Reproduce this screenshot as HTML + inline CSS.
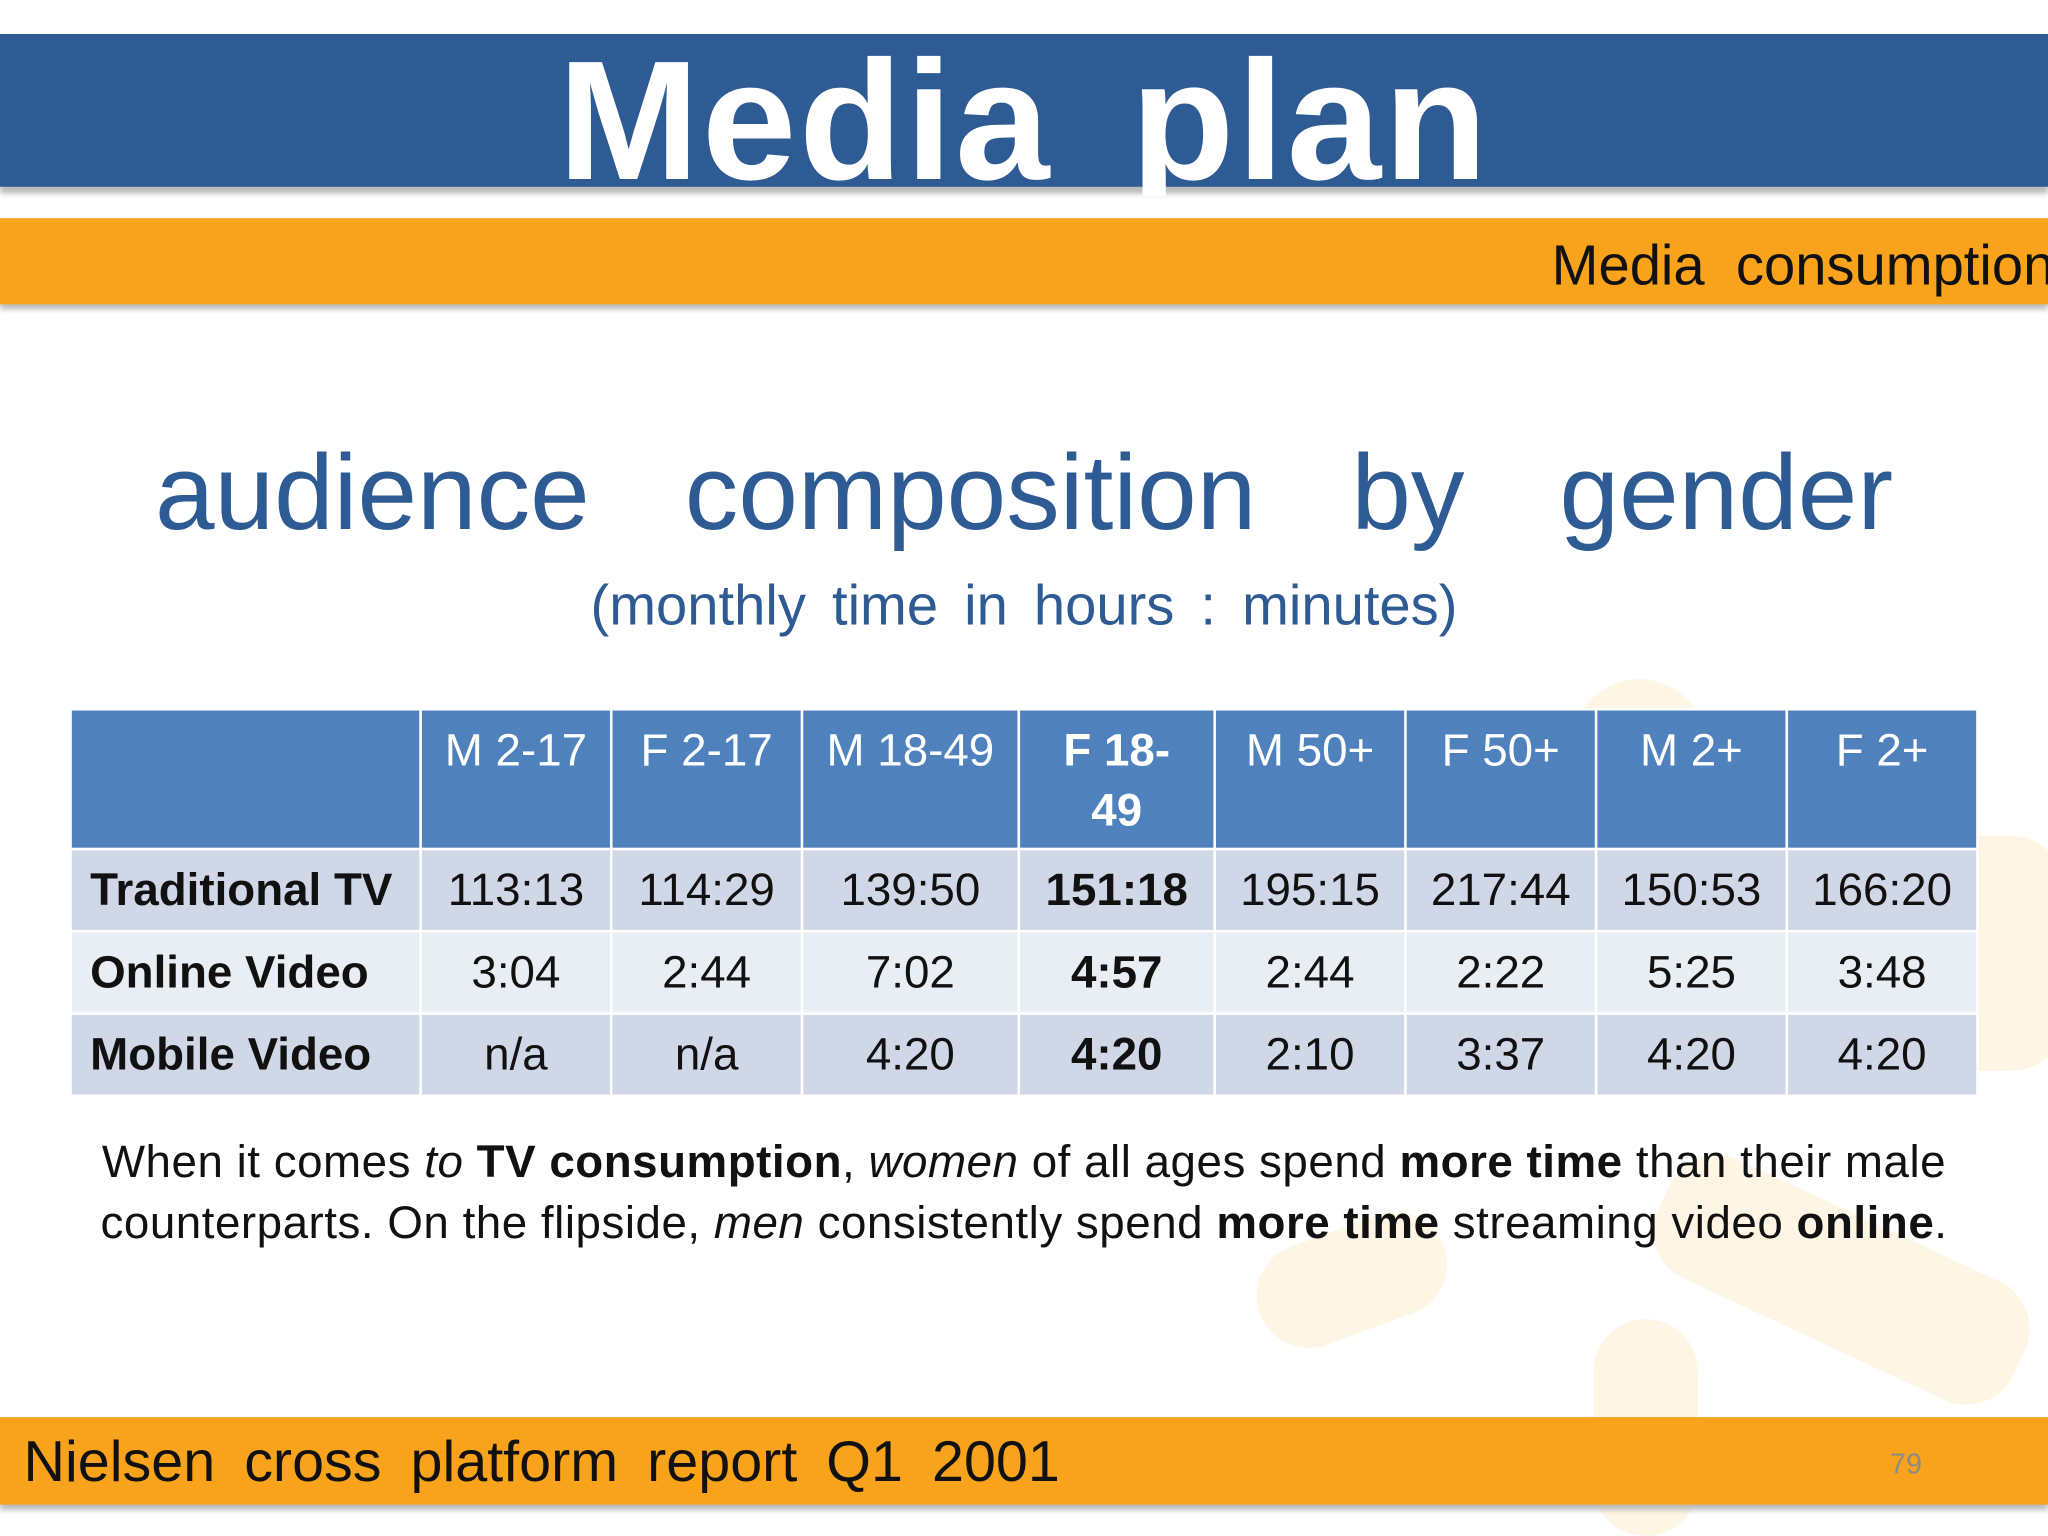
<!DOCTYPE html>
<html><head><meta charset="utf-8"><style>
html,body{margin:0;padding:0;background:#fff;overflow:hidden}
#wrap{width:1568px;height:1176px;position:relative;transform:scale(1.306122,1.306122);transform-origin:0 0;font-family:"Liberation Sans",sans-serif;overflow:hidden;background:#fff}
.abs{position:absolute}
.wm{position:absolute;background:rgba(250,205,120,0.2);border-radius:40px}
table{position:absolute;left:53px;top:542px;border-collapse:collapse;font-family:"Liberation Sans",sans-serif}
td,th{border:2px solid #fff;padding:0;text-align:center;font-size:35px;color:#111;font-weight:normal}
th{background:#4f81bd;color:#fff;vertical-align:top;padding-top:8px;line-height:46px;height:97px}
tr.r1 td,tr.r3 td{background:#d0d8e8}
tr.r2 td{background:#e9edf4}
td{height:61px}
td.lab{text-align:left;padding-left:14px;font-weight:bold}
.b{font-weight:bold}
</style></head><body>
<div id="wrap">
  <div class="wm" style="left:1200px;top:520px;width:110px;height:120px;border-radius:50%"></div>
  <div class="wm" style="left:1480px;top:640px;width:100px;height:180px"></div>
  <div class="wm" style="left:1260px;top:930px;width:300px;height:100px;transform:rotate(25deg)"></div>
  <div class="wm" style="left:1220px;top:1010px;width:80px;height:166px"></div>
  <div class="wm" style="left:960px;top:940px;width:150px;height:80px;transform:rotate(-20deg)"></div>

  <div class="abs" style="left:0;top:26px;width:1568px;height:117px;background:#2e5b93;box-shadow:0 5px 4px #bbb"></div>
  <div class="abs" style="left:0;top:20px;width:1568px;height:130px;overflow:hidden">
    <div style="position:absolute;left:0;width:1568px;top:2px;text-align:center;color:#fff;font-weight:bold;font-size:130px;line-height:140px;letter-spacing:2px;word-spacing:22px">Media plan</div>
  </div>
  <div class="abs" style="left:0;top:167px;width:1568px;height:66px;background:#f9a31c;box-shadow:0 4px 4px #bbb"></div>
  <div class="abs" style="left:1188px;top:179px;font-size:43px;line-height:50px;white-space:nowrap;color:#111;word-spacing:12px">Media consumption</div>

  <div class="abs" style="left:0;width:1568px;top:328px;text-align:center;color:#2e5b93;font-size:82px;line-height:100px;word-spacing:50px">audience composition by gender</div>
  <div class="abs" style="left:0;width:1568px;top:437px;text-align:center;color:#2e5b93;font-size:43px;line-height:54px;word-spacing:8px">(monthly time in hours : minutes)</div>

  <table>
    <tr>
      <th style="width:266px"></th><th style="width:144px">M 2-17</th><th style="width:144px">F 2-17</th><th style="width:164px">M 18-49</th><th style="width:148px" class="b">F 18-<br>49</th><th style="width:144px">M 50+</th><th style="width:144px">F 50+</th><th style="width:144px">M 2+</th><th style="width:144px">F 2+</th>
    </tr>
    <tr class="r1"><td class="lab">Traditional TV</td><td>113:13</td><td>114:29</td><td>139:50</td><td class="b">151:18</td><td>195:15</td><td>217:44</td><td>150:53</td><td>166:20</td></tr>
    <tr class="r2"><td class="lab">Online Video</td><td>3:04</td><td>2:44</td><td>7:02</td><td class="b">4:57</td><td>2:44</td><td>2:22</td><td>5:25</td><td>3:48</td></tr>
    <tr class="r3"><td class="lab">Mobile Video</td><td>n/a</td><td>n/a</td><td>4:20</td><td class="b">4:20</td><td>2:10</td><td>3:37</td><td>4:20</td><td>4:20</td></tr>
  </table>

  <div class="abs" style="left:20px;width:1528px;top:866px;text-align:center;font-family:'Liberation Sans',sans-serif;font-size:35px;letter-spacing:0.4px;line-height:47px;color:#111">When it comes <i>to</i> <b>TV consumption</b>, <i>women</i> of all ages spend <b>more time</b> than their male<br>counterparts. On the flipside, <i>men</i> consistently spend <b>more time</b> streaming video <b>online</b>.</div>

  <div class="abs" style="left:0;top:1085px;width:1568px;height:67px;background:#f9a31c;box-shadow:0 4px 4px #bbb"></div>
  <div class="abs" style="left:18px;top:1094px;font-size:44px;line-height:52px;color:#111;word-spacing:10px;white-space:nowrap">Nielsen cross platform report Q1 2001</div>
  <div class="abs" style="left:1447px;top:1108px;font-size:22px;color:#8a8a8a">79</div>
</div>
</body></html>
